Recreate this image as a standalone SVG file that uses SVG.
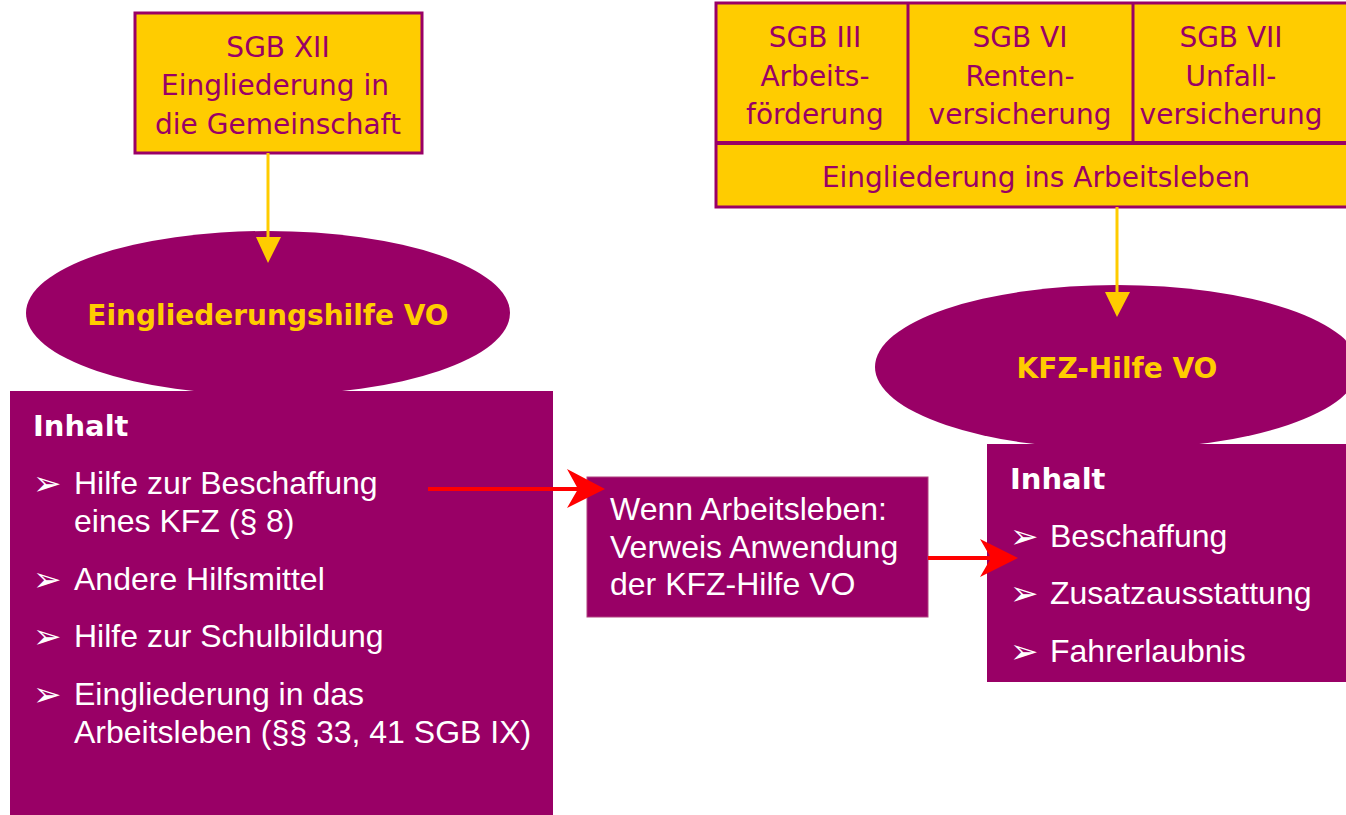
<svg xmlns="http://www.w3.org/2000/svg" width="1346" height="815" viewBox="0 0 1346 815">
<style>
.yb{fill:#FFCC00;stroke:#990066;stroke-width:3}
.yt{font-family:"DejaVu Sans",sans-serif;font-size:28px;fill:#990066;text-anchor:middle}
.pb{fill:#990066}
.el{fill:#990066}
.et{font-family:"DejaVu Sans",sans-serif;font-weight:bold;font-size:28px;fill:#FFCC00;text-anchor:middle}
.hd{font-family:"DejaVu Sans",sans-serif;font-weight:bold;font-size:29px;fill:#FFFFFF}
.wt{font-family:"Liberation Sans",Arial,sans-serif;font-size:32px;fill:#FFFFFF}
.bl{font-family:"DejaVu Sans",sans-serif;font-size:34px;fill:#FFFFFF}
.ya{stroke:#FFCC00;stroke-width:3;fill:none}
.ra{stroke:#FF0000;stroke-width:4;fill:none}
</style>
<rect width="1346" height="815" fill="#FFFFFF"/>
<g id="sgb12">
<rect class="yb" x="135" y="13" width="287" height="140"/>
<text class="yt" x="278" y="57">SGB XII</text>
<text class="yt" x="275" y="95">Eingliederung in</text>
<text class="yt" x="278" y="134">die Gemeinschaft</text>
</g>
<g id="sgbTop">
<rect class="yb" x="716" y="3" width="640" height="204"/>
<line x1="716" y1="143" x2="1356" y2="143" stroke="#990066" stroke-width="4"/>
<line x1="908" y1="3" x2="908" y2="143" stroke="#990066" stroke-width="3"/>
<line x1="1133" y1="3" x2="1133" y2="143" stroke="#990066" stroke-width="3"/>
<text class="yt" x="815" y="47">SGB III</text>
<text class="yt" x="815" y="86">Arbeits-</text>
<text class="yt" x="815" y="124">förderung</text>
<text class="yt" x="1020" y="47">SGB VI</text>
<text class="yt" x="1020" y="86">Renten-</text>
<text class="yt" x="1020" y="124">versicherung</text>
<text class="yt" x="1231" y="47">SGB VII</text>
<text class="yt" x="1231" y="86">Unfall-</text>
<text class="yt" x="1231" y="124">versicherung</text>
<text class="yt" x="1036" y="187">Eingliederung ins Arbeitsleben</text>
</g>
<g id="ellipse1">
<ellipse class="el" cx="268" cy="313" rx="242" ry="82"/>
<text class="et" x="268" y="325">Eingliederungshilfe VO</text>
</g>
<g id="ellipse2">
<ellipse class="el" cx="1117" cy="367" rx="242" ry="82"/>
<text class="et" x="1117" y="378">KFZ-Hilfe VO</text>
</g>
<g id="leftBox">
<rect class="pb" x="10" y="391" width="543" height="424"/>
<text class="hd" x="33" y="436">Inhalt</text>
<text class="bl" x="33" y="495">➢</text>
<text class="wt" x="74" y="494">Hilfe zur Beschaffung</text>
<text class="wt" x="74" y="532">eines KFZ (§ 8)</text>
<text class="bl" x="33" y="591">➢</text>
<text class="wt" x="74" y="590">Andere Hilfsmittel</text>
<text class="bl" x="33" y="648">➢</text>
<text class="wt" x="74" y="647">Hilfe zur Schulbildung</text>
<text class="bl" x="33" y="706">➢</text>
<text class="wt" x="74" y="705">Eingliederung in das</text>
<text class="wt" x="74" y="743">Arbeitsleben (§§ 33, 41 SGB IX)</text>
</g>
<g id="midBox">
<rect class="pb" x="587" y="477" width="341" height="140" stroke="#B0407F" stroke-width="1"/>
<text class="wt" x="610" y="520">Wenn Arbeitsleben:</text>
<text class="wt" x="610" y="558">Verweis Anwendung</text>
<text class="wt" x="610" y="595">der KFZ-Hilfe VO</text>
</g>
<g id="rightBox">
<rect class="pb" x="987" y="444" width="370" height="238"/>
<text class="hd" x="1010" y="489">Inhalt</text>
<text class="bl" x="1010" y="548">➢</text>
<text class="wt" x="1050" y="547">Beschaffung</text>
<text class="bl" x="1010" y="605">➢</text>
<text class="wt" x="1050" y="604">Zusatzausstattung</text>
<text class="bl" x="1010" y="663">➢</text>
<text class="wt" x="1050" y="662">Fahrerlaubnis</text>
</g>
<g id="connectors">
<line class="ya" x1="268" y1="153" x2="268" y2="240"/>
<polygon points="256,237 281,237 268,263" fill="#FFCC00"/>
<line class="ya" x1="1117" y1="207" x2="1117" y2="294"/>
<polygon points="1105,292 1130,292 1117,317" fill="#FFCC00"/>
<line class="ra" x1="428" y1="489" x2="580" y2="489"/>
<polygon points="567,469 605,489 567,508 578,489" fill="#FF0000"/>
<line class="ra" x1="928" y1="558" x2="995" y2="558"/>
<polygon points="980,539 1018,558 980,577 991,558" fill="#FF0000"/>
</g>
</svg>
